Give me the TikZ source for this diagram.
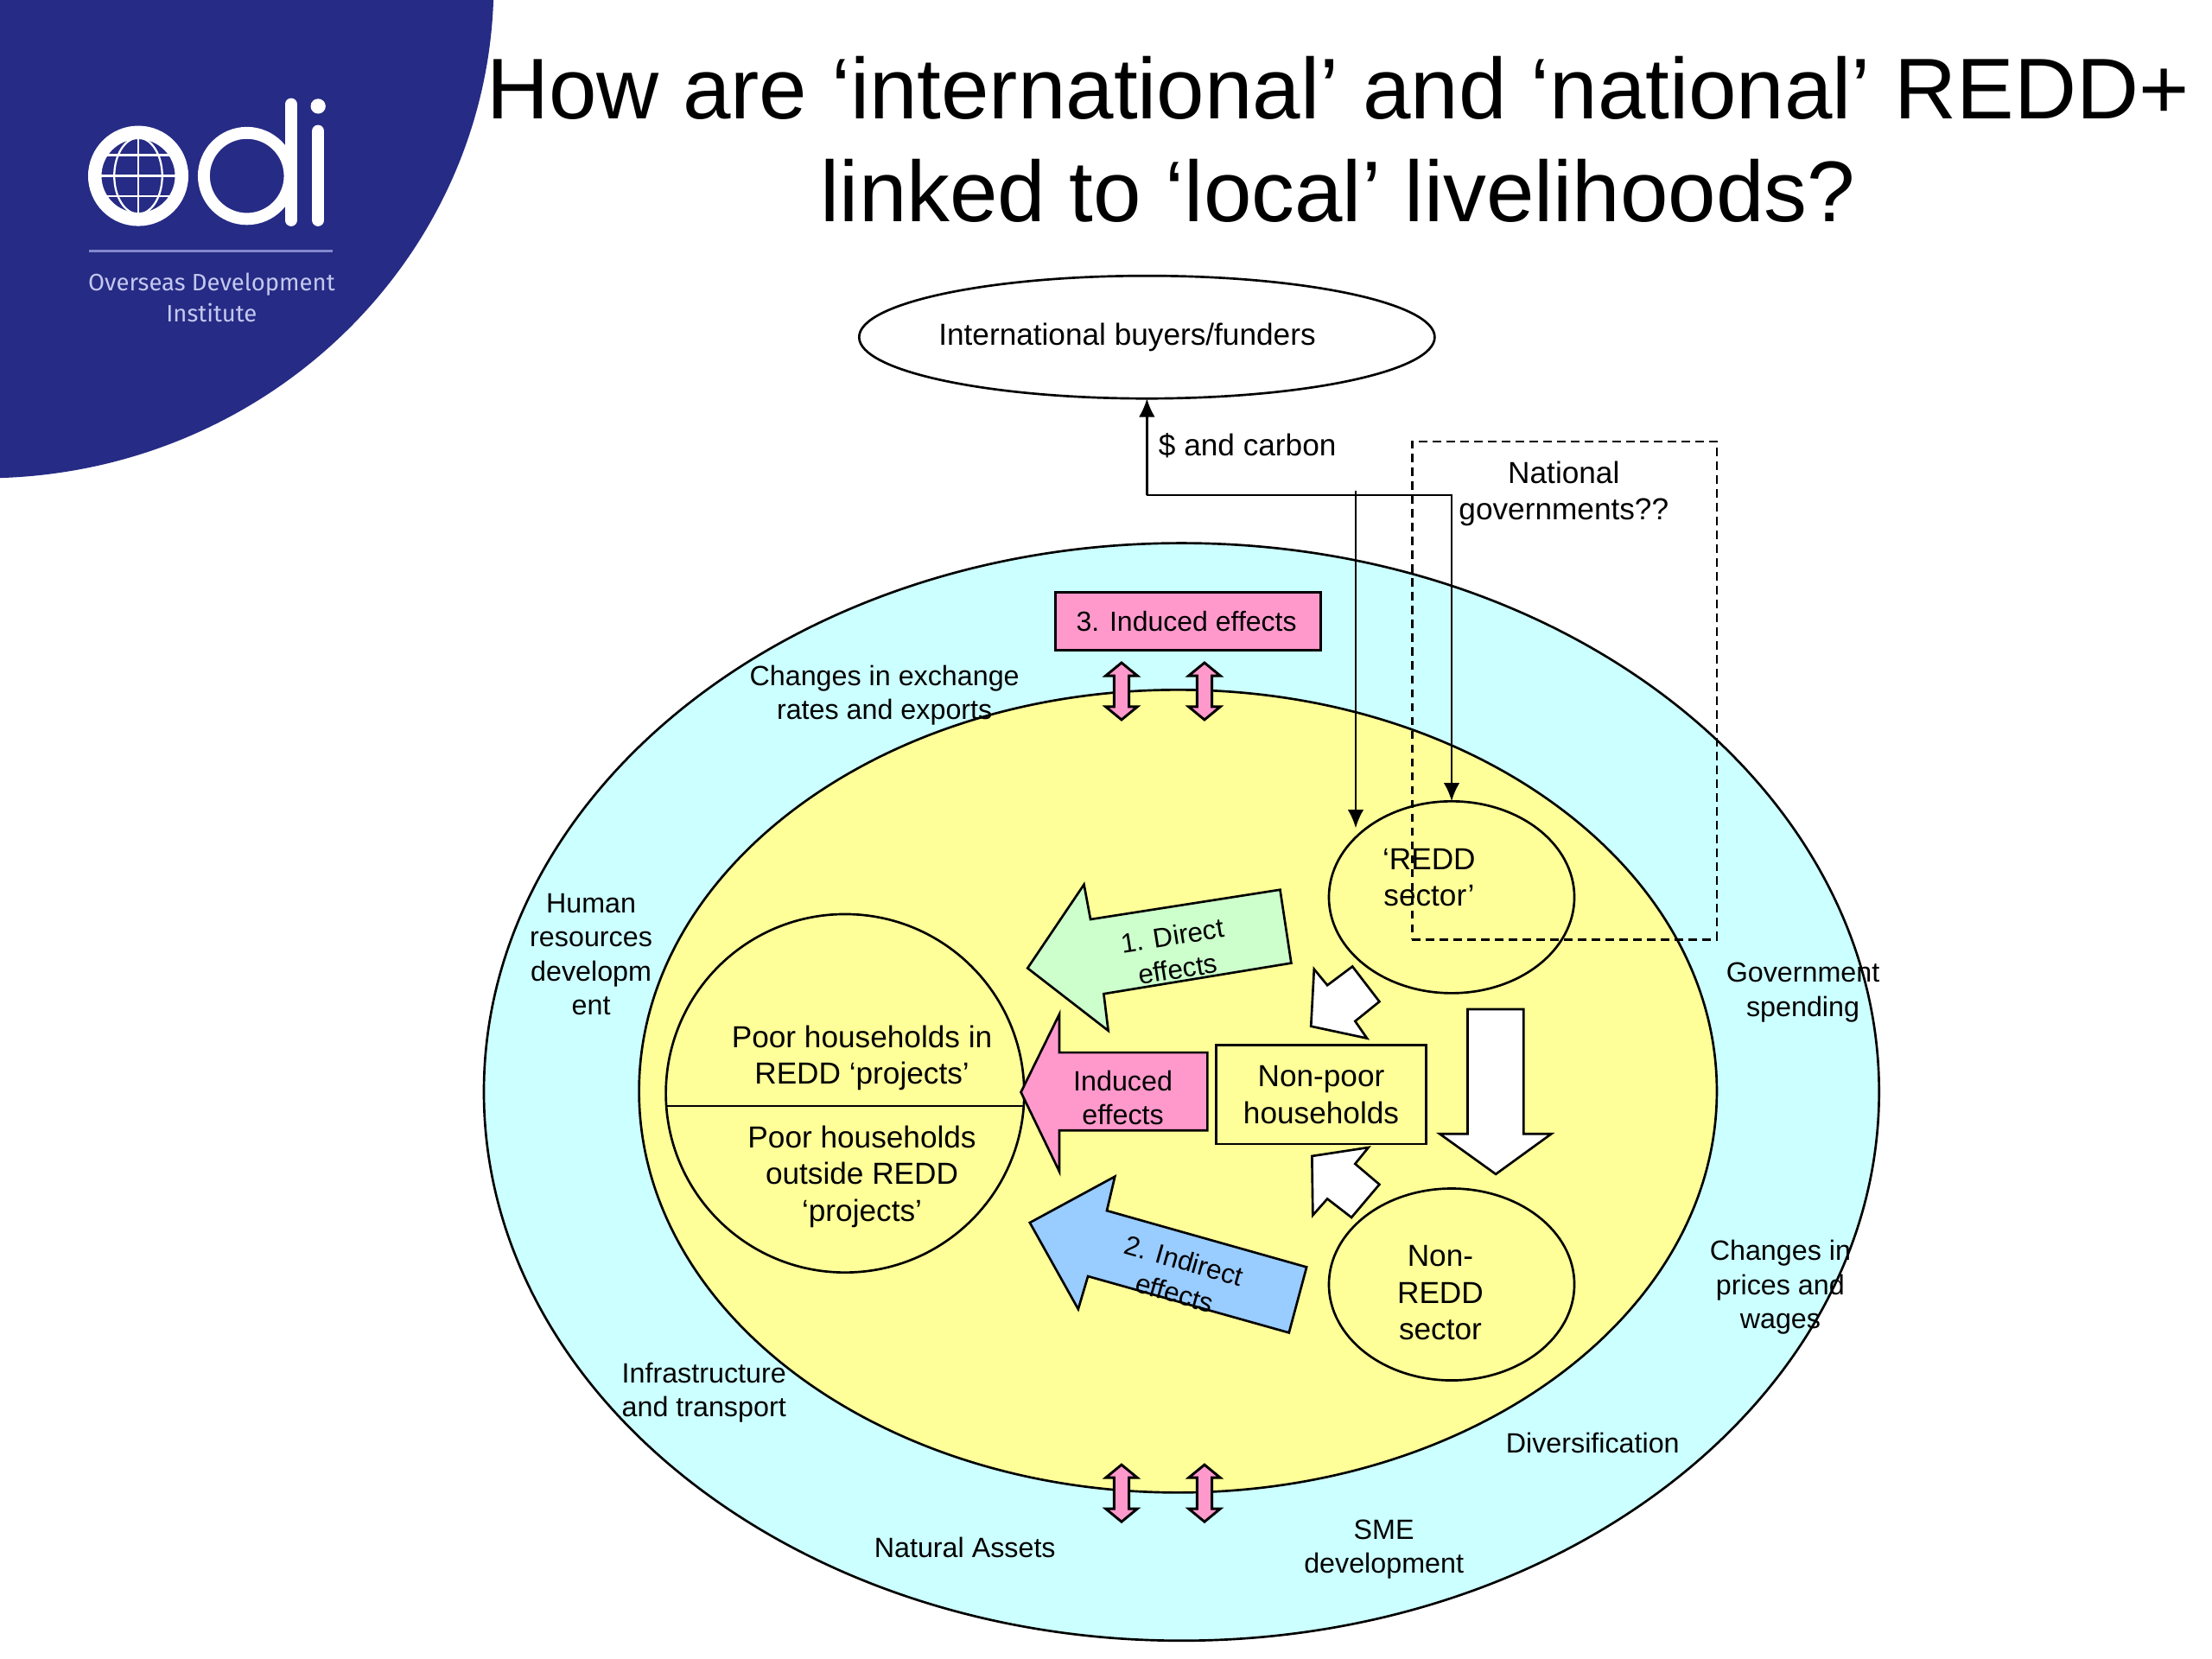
\documentclass[tikz,border=0pt]{standalone}
\usepackage{fontspec}
\setmainfont{Liberation Sans}
\newfontfamily\logofont{Fira Sans}
\usetikzlibrary{shapes.geometric,arrows.meta}
\definecolor{navy}{HTML}{262B85}
\definecolor{cyanbg}{HTML}{CCFFFF}
\definecolor{yellowbg}{HTML}{FFFF99}
\definecolor{greenarrow}{HTML}{CCFFCC}
\definecolor{bluearrow}{HTML}{99CCFF}
\definecolor{pinkfill}{HTML}{FF99CC}
\definecolor{logoline}{HTML}{8388CF}
\definecolor{logotext}{HTML}{C4C8F0}
\tikzset{
  x=0.6122pt,y=-0.6122pt,
  ell/.style n args={4}{ellipse,draw=black,line width=1pt,fill=#1,minimum width=#2*0.6122pt,minimum height=#3*0.6122pt,inner sep=0pt,outer sep=0pt,#4},
  big/.style={font=\fontsize{13.2}{16}\selectfont,align=center,inner sep=0pt},
  mid/.style={font=\fontsize{11.8}{14.6}\selectfont,align=center,inner sep=0pt},
  boxtxt/.style={font=\fontsize{12}{16}\selectfont,align=center,inner sep=0pt},
  small/.style={font=\fontsize{12.1}{14.7}\selectfont,align=center,inner sep=0pt},
  block/.style={draw=black,line width=1pt},
  conn/.style={draw=black,line width=1pt,arrows={-{Latex[length=8pt,width=7pt]}}},
  dbl/.style={draw=black,fill=pinkfill,line width=1.1pt,line join=miter},
  logostroke/.style={draw=white,line cap=round},
}
\begin{document}
\begin{tikzpicture}
\useasboundingbox (0,0) rectangle (1568,1176);
\fill[white] (0,0) rectangle (1568,1176);
% corner logo
\begin{scope}
  \clip (0,0) rectangle (1568,1176);
  \fill[navy] (-12,-12) ellipse [x radius=362,y radius=351];
\end{scope}
\draw[draw=white,line width=5.8pt] (98,124.7) circle [radius=30.8];
\begin{scope}
  \clip (98,124.7) circle [radius=27];
  \draw[draw=white,line width=0.85pt] (98,90) -- (98,160);
  \draw[draw=white,line width=0.85pt] (60,124.7) -- (136,124.7);
  \draw[draw=white,line width=0.85pt] (60,110) -- (136,110);
  \draw[draw=white,line width=0.85pt] (60,139) -- (136,139);
  \draw[draw=white,line width=0.85pt] (98,124.7) ellipse [x radius=17,y radius=27];
\end{scope}
\draw[draw=white,line width=5.2pt] (175,124.7) circle [radius=30.5];
\draw[logostroke,line width=5.4pt] (206.3,74) -- (206.3,156);
\draw[logostroke,line width=5.4pt] (225.5,93) -- (225.5,156);
\fill[white] (225.5,75.3) circle [radius=5.3];
\draw[logoline,line width=0.9pt] (63.3,178) -- (236,178);
\node[font=\logofont\fontsize{10.3}{13.6}\selectfont,text=logotext,align=center,inner sep=0pt] (logotxt) at (150,211) {Overseas Development\\Institute};
% title
\node[font=\fontsize{37.4}{44.5}\selectfont,align=center,inner sep=0pt] (title) at (948.5,99) {How are ‘international’ and ‘national’ REDD+\\linked to ‘local’ livelihoods?};
% ellipses
\node[ell={cyanbg}{989}{778}{}] (outer) at (837.5,774) {};
\node[ell={yellowbg}{764}{569}{}] (inner) at (835,773.5) {};
\node[ell={white}{408}{87}{}] (buyers) at (813,239) {};
\node[big] (buyerstxt) at (799,239) {International buyers/funders};
% circles
\node[ell={yellowbg}{254}{254}{}] (poor) at (599,775) {};
\node[ell={yellowbg}{174}{136}{}] (redd) at (1029,636) {};
\node[ell={yellowbg}{174}{136}{}] (nonredd) at (1029,910.5) {};
\coordinate (pl) at (472.3,784);
\coordinate (pr) at (725.7,784);
\draw[black,line width=1pt] (pl) -- (pr);
% boxes
\node[block,fill=pinkfill,minimum width=188*0.6122pt,minimum height=41*0.6122pt,inner sep=0pt] (induced) at (842,440.5) {};
\node[boxtxt] (inducedtxt) at (841,440.5) {3. Induced effects};
\node[block,fill=yellowbg,minimum width=149*0.6122pt,minimum height=70*0.6122pt,inner sep=0pt] (nonpoor) at (936.5,776) {};
\node[big] (nonpoortxt) at (936.5,776) {Non-poor\\households};
% block arrows
\path[block,fill=greenarrow] (728.4,686.3) -- (768.4,627) -- (773,651.7) -- (907.4,630.7) -- (915.3,682.7) -- (782.4,704.5) -- (785.6,730.6) -- cycle;
\path[block,fill=bluearrow] (730,866.7) -- (790.3,834) -- (784.6,858.2) -- (926.2,898.2) -- (913.7,944.7) -- (771.2,904.7) -- (764.3,928) -- cycle;
\path[block,fill=pinkfill] (723.7,774.2) -- (750.9,719) -- (750.9,746.1) -- (855.9,746.1) -- (855.9,801.3) -- (750.9,801.3) -- (750.9,830.4) -- cycle;
\path[block,fill=white] (1040.3,715.4) -- (1080,715.4) -- (1080,803.8) -- (1099.6,803.8) -- (1060.3,832.3) -- (1020.6,803.8) -- (1040.3,803.8) -- cycle;
\path[block,fill=white] (931.5,687) -- (940.9,698.4) -- (958.7,685.1) -- (977.8,710) -- (960.6,723.9) -- (969,736) -- (929.3,727.5) -- cycle;
\path[block,fill=white] (970,813.4) -- (960.6,825) -- (977.8,839.6) -- (958,863) -- (940.9,849.8) -- (930.6,861.4) -- (930,819.5) -- cycle;
% double arrows
\foreach \cx/\cy in {795/490, 853.8/490, 795/1058.5, 853.8/1058.5}{
  \path[dbl] (\cx,\cy-20.2) -- (\cx+11.2,\cy-11) -- (\cx+5.3,\cy-11) -- (\cx+5.3,\cy+11) -- (\cx+11.2,\cy+11) -- (\cx,\cy+20.2) -- (\cx-11.2,\cy+11) -- (\cx-5.3,\cy+11) -- (\cx-5.3,\cy-11) -- (\cx-11.2,\cy-11) -- cycle;
}
% texts
\node[mid,rotate=9] (directtxt) at (833,675) {1. Direct\\effects};
\node[mid,rotate=-16] (indirecttxt) at (836,905) {2. Indirect\\effects};
\node[small] (inducedarrowtxt) at (796,778) {Induced\\effects};
\node[big] (poor1) at (611,750) {Poor households in\\REDD ‘projects’};
\node[big] (poor2) at (611,834) {Poor households\\outside REDD\\‘projects’};
\node[big] (redd1) at (1013,622) {‘REDD\\sector’};
\node[big] (nonredd1) at (1021,916.5) {Non-\\REDD\\sector};
\node[small] (fx1) at (627,493) {Changes in exchange\\rates and exports};
\node[small] (fx2) at (419,676.5) {Human\\resources\\developm\\ent};
\node[small] (fx3) at (1278,703.5) {Government\\spending};
\node[small] (fx4) at (1262,912.5) {Changes in\\prices and\\wages};
\node[small] (fx5) at (1129,1023) {Diversification};
\node[small] (fx6) at (981,1098.5) {SME\\development};
\node[small] (fx7) at (684,1097) {Natural Assets};
\node[small] (fx8) at (499,987) {Infrastructure\\and transport};
% dashed box and connectors
\node[draw=black,dash pattern=on 3.6pt off 2.4pt,line width=1pt,minimum width=216*0.6122pt,minimum height=353*0.6122pt,inner sep=0pt] (natbox) at (1109,489.5) {};
\node[big] (nattxt) at (1108.5,350) {National\\governments??};
\node[big,anchor=west] (carbon) at (821,316) {\$ and carbon};
\coordinate (jct) at (813,351);
\coordinate (jcr) at (1029,351);
\coordinate (topb) at (961,348);
\coordinate (tipb) at (961,587);
\draw[conn] (jct) -- (buyers.south);
\draw[conn] (jct) -- (jcr) -- (redd.north);
\draw[conn] (topb) -- (tipb);
\end{tikzpicture}
\end{document}
